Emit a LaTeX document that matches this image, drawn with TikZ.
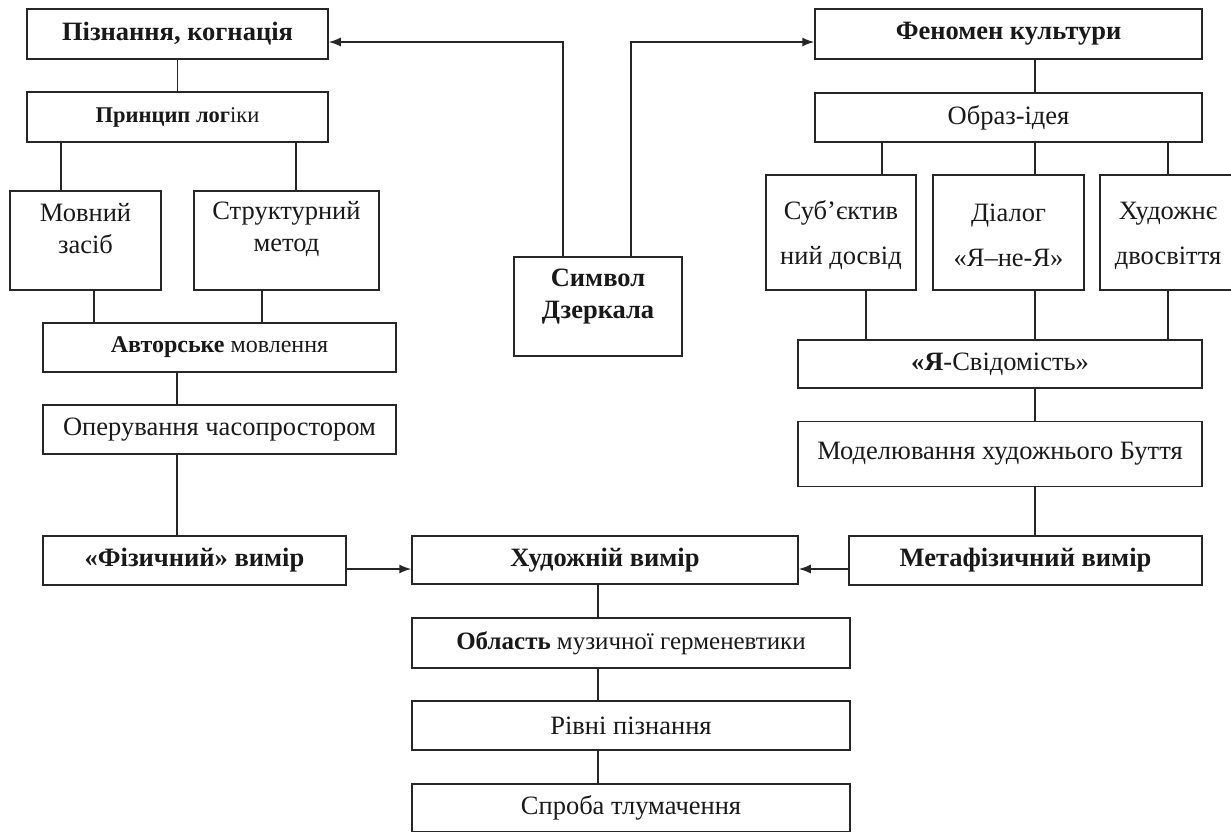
\documentclass[tikz,border=0pt]{standalone}
\usepackage{fontspec}
\setmainfont{Liberation Serif}
\usetikzlibrary{arrows.meta}
\begin{document}
\begin{tikzpicture}[x=1pt,y=-1pt,
  wh/.style 2 args={minimum width=#1pt, minimum height=#2pt},
  box/.style={draw=black!85, line width=1.5pt, inner sep=0pt, align=center, text=black!90,
    font=\fontsize{26.5}{31}\selectfont},
  bbox/.style={box, font=\fontsize{26.5}{31}\selectfont\bfseries},
  txt/.style={inner sep=0pt, align=center, text=black!90, font=\fontsize{26.5}{31}\selectfont},
  btxt/.style={txt, font=\fontsize{26.5}{31}\selectfont\bfseries},
  conn/.style={draw=black!85, line width=1.5pt},
  arr/.style={conn, -{Latex[length=12pt,width=9pt]}}]
\useasboundingbox (0,0) rectangle (1231,831);
\fill[white] (0,0) rectangle (1231,831);

% left column
\node[bbox, wh={301}{50}] (pz) at (177.5,34) {Пізнання, когнація};
\node[box, wh={301}{50}, font=\fontsize{22.5}{27}\selectfont] (pr) at (177.5,117) {\textbf{Принцип лог}іки};
\node[box, wh={151}{99}, label={[txt, yshift=11.5pt]center:Мовний\\[1pt]засіб}] (mv) at (85.5,240.5) {};
\node[box, wh={185}{99}, label={[txt, yshift=11.5pt]center:Структурний\\[1pt]метод}] (st) at (286.5,240.5) {};
\node[box, wh={353}{49}, font=\fontsize{24}{28}\selectfont] (av) at (219.5,347.5) {\textbf{Авторське} мовлення};
\node[box, wh={353}{49}] (op) at (219.5,429.5) {Оперування часопростором};
\node[bbox, wh={303}{49}] (fz) at (194.5,560.5) {«Фізичний» вимір};

% centre
\node[box, wh={168}{99}, label={[btxt, yshift=10pt]center:Символ\\[1pt]Дзеркала}] (sy) at (598,306.5) {};
\node[bbox, wh={386}{48}] (hu) at (605,560) {Художній вимір};
\node[box, wh={438}{50}, font=\fontsize{25}{30}\selectfont] (ol) at (631,643) {\textbf{Область} музичної герменевтики};
\node[box, wh={438}{49}] (ri) at (631,725.5) {Рівні пізнання};
\node[box, wh={438}{48}] (sp) at (631,808) {Спроба тлумачення};

% right column
\node[bbox, wh={387}{50}] (fe) at (1008.5,34) {Феномен культури};
\node[box, wh={387}{49}] (ob) at (1008.5,117.5) {Образ-ідея};
\node[box, wh={150}{115}, label={[txt, yshift=-3pt]center:Суб’єктив\\[14pt]ний досвід}] (su) at (841,232.5) {};
\node[box, wh={151}{115}, label={[txt, yshift=-3pt]center:Діалог\\[14pt]«Я–не-Я»}] (di) at (1008.5,232.5) {};
\node[box, wh={136}{115}, label={[txt, yshift=-3pt]center:Художнє\\[14pt]двосвіття}] (hd) at (1168,232.5) {};
\node[box, wh={404}{48}] (ya) at (1000,364) {\textbf{«Я}-Свідомість»};
\node[box, wh={404}{65}] (mo) at (1000,454) {Моделювання художнього Буття};
\node[bbox, wh={353}{49}] (me) at (1025.5,560.5) {Метафізичний вимір};

% helper coordinates
\coordinate (xa) at (61,0);
\coordinate (xb) at (296,0);
\coordinate (xc) at (94,0);
\coordinate (xd) at (262,0);
\coordinate (xe) at (177,0);
\coordinate (xf) at (563,0);
\coordinate (xg) at (631,0);
\coordinate (xh) at (1035,0);
\coordinate (xi) at (882,0);
\coordinate (xj) at (1168,0);
\coordinate (xk) at (866,0);
\coordinate (xl) at (598,0);
\coordinate (ytop) at (0,42);
\coordinate (yarr) at (0,569);

% connectors
\draw[conn] (pz.south) -- (pr.north);
\draw[conn] (pr.south -| xa) -- (mv.north -| xa);
\draw[conn] (pr.south -| xb) -- (st.north -| xb);
\draw[conn] (mv.south -| xc) -- (av.north -| xc);
\draw[conn] (st.south -| xd) -- (av.north -| xd);
\draw[conn] (av.south -| xe) -- (op.north -| xe);
\draw[conn] (op.south -| xe) -- (fz.north -| xe);
\draw[arr] (fz.east |- yarr) -- (hu.west |- yarr);
\draw[arr] (me.west |- yarr) -- (hu.east |- yarr);
\draw[arr] (sy.north -| xf) |- (pz.east |- ytop);
\draw[arr] (sy.north -| xg) |- (fe.west |- ytop);
\draw[conn] (fe.south -| xh) -- (ob.north -| xh);
\draw[conn] (ob.south -| xi) -- (su.north -| xi);
\draw[conn] (ob.south -| xh) -- (di.north -| xh);
\draw[conn] (ob.south -| xj) -- (hd.north -| xj);
\draw[conn] (su.south -| xk) -- (ya.north -| xk);
\draw[conn] (di.south -| xh) -- (ya.north -| xh);
\draw[conn] (hd.south -| xj) -- (ya.north -| xj);
\draw[conn] (ya.south -| xh) -- (mo.north -| xh);
\draw[conn] (mo.south -| xh) -- (me.north -| xh);
\draw[conn] (hu.south -| xl) -- (ol.north -| xl);
\draw[conn] (ol.south -| xl) -- (ri.north -| xl);
\draw[conn] (ri.south -| xl) -- (sp.north -| xl);
\end{tikzpicture}
\end{document}
